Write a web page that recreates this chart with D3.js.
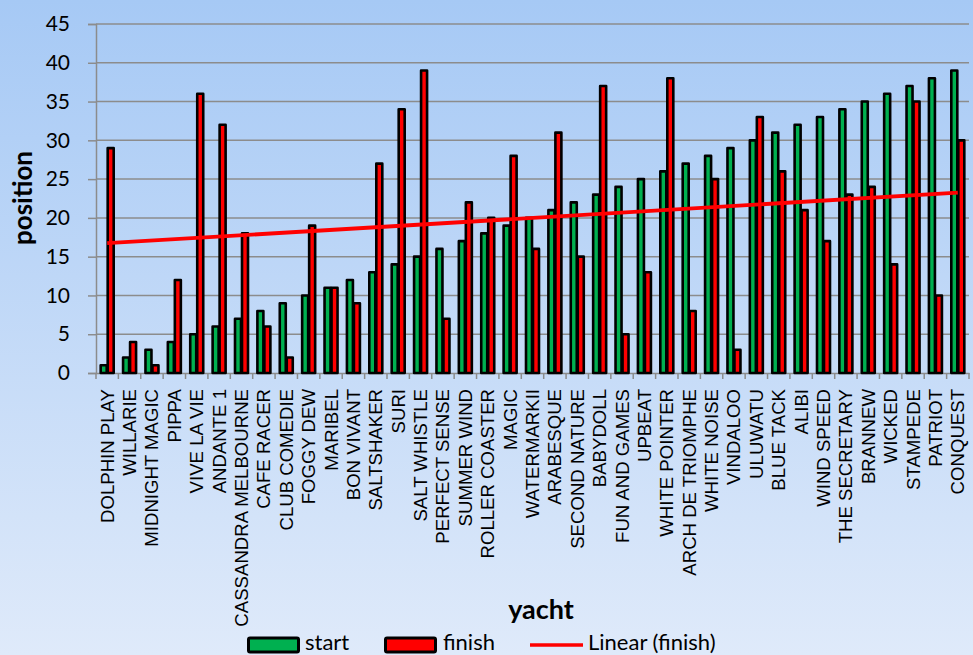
<!DOCTYPE html>
<html>
<head>
<meta charset="utf-8">
<script src="https://cdn.jsdelivr.net/npm/d3@7"></script>
<style>
  html, body { margin: 0; padding: 0; }
  svg { display: block; }
</style>
</head>
<body>
<svg id="chart" width="973" height="655"></svg>
<script>
const yachts = ["DOLPHIN PLAY","WILLARIE","MIDNIGHT MAGIC","PIPPA","VIVE LA VIE","ANDANTE 1","CASSANDRA MELBOURNE","CAFE RACER","CLUB COMEDIE","FOGGY DEW","MARIBEL","BON VIVANT","SALTSHAKER","SURI","SALT WHISTLE","PERFECT SENSE","SUMMER WIND","ROLLER COASTER","MAGIC","WATERMARKII","ARABESQUE","SECOND NATURE","BABYDOLL","FUN AND GAMES","UPBEAT","WHITE POINTER","ARCH DE TRIOMPHE","WHITE NOISE","VINDALOO","ULUWATU","BLUE TACK","ALIBI","WIND SPEED","THE SECRETARY","BRANNEW","WICKED","STAMPEDE","PATRIOT","CONQUEST"];
const start  = [1,2,3,4,5,6,7,8,9,10,11,12,13,14,15,16,17,18,19,20,21,22,23,24,25,26,27,28,29,30,31,32,33,34,35,36,37,38,39];
const finish = [29,4,1,12,36,32,18,6,2,19,11,9,27,34,39,7,22,20,28,16,31,15,37,5,13,38,8,25,3,33,26,21,17,23,24,14,35,10,30];
const yTicks = [0,5,10,15,20,25,30,35,40,45];
const legendLabels = ["start","finish","Linear (finish)"];

const W = 973, H = 655;
const L = 96, R = 969, T = 24, B = 373;
const svg = d3.select("#chart");

// background gradient
const defs = svg.append("defs");
const grad = defs.append("linearGradient").attr("id","bg").attr("x1",0).attr("y1",0).attr("x2",0).attr("y2",1);
grad.append("stop").attr("offset","0%").attr("stop-color","#a6c9f5");
grad.append("stop").attr("offset","100%").attr("stop-color","#dfeafa");
svg.append("rect").attr("width",W).attr("height",H).attr("fill","url(#bg)");

const x = d3.scaleBand().domain(yachts).range([L, R]).padding(0);
const y = d3.scaleLinear().domain([0,45]).range([B, T]);

// gridlines
svg.append("g").selectAll("line").data(yTicks.filter(d=>d>0)).join("line")
  .attr("x1", L).attr("x2", R).attr("y1", d=>y(d)).attr("y2", d=>y(d))
  .attr("stroke","#8c8c8c").attr("stroke-width",1.5);

// y axis
const yAxis = svg.append("g").attr("transform",`translate(${L},0)`)
  .call(d3.axisLeft(y).tickValues(yTicks).tickSize(8).tickPadding(18).tickFormat(d3.format("d")));
yAxis.select(".domain").attr("stroke","#8c8c8c").attr("stroke-width",1.5);
yAxis.selectAll(".tick line").attr("stroke","#8c8c8c").attr("stroke-width",1.5);
yAxis.selectAll("text").attr("font-family","Lato, 'Open Sans', sans-serif").attr("font-size",21).attr("fill","#000");

// x axis
const xAxis = svg.append("g").attr("transform",`translate(0,${B})`)
  .call(d3.axisBottom(x).tickSize(0).tickFormat(""));
xAxis.select(".domain").attr("stroke","#8c8c8c").attr("stroke-width",1.5);
// boundary ticks
const bounds = yachts.map(d => x(d)).concat([R]);
svg.append("g").selectAll("line").data(bounds).join("line")
  .attr("x1", d=>d).attr("x2", d=>d).attr("y1", B).attr("y2", B+6)
  .attr("stroke","#8c8c8c").attr("stroke-width",1.5);

// category labels
svg.append("g").selectAll("text").data(yachts).join("text")
  .attr("transform", d => `translate(${x(d)+x.bandwidth()/2+6.5},${389}) rotate(-90)`)
  .attr("text-anchor","end")
  .attr("font-family","'Liberation Sans', Arial, sans-serif")
  .attr("font-size",18.6)
  .attr("fill","#000")
  .text(d=>d);

// bars
const bw = 6, sw = 2.6, off = 0.5;
const bars = svg.append("g");
bars.selectAll("rect.s").data(yachts).join("rect").attr("class","s")
  .attr("x", (d,i) => x(d)+x.bandwidth()/2 - off - bw)
  .attr("width", bw)
  .attr("y", (d,i) => y(start[i]))
  .attr("height", (d,i) => B - y(start[i]))
  .attr("fill","#00b050").attr("stroke","#000").attr("stroke-width",sw).attr("stroke-linejoin","round");
bars.selectAll("rect.f").data(yachts).join("rect").attr("class","f")
  .attr("x", (d,i) => x(d)+x.bandwidth()/2 + off)
  .attr("width", bw)
  .attr("y", (d,i) => y(finish[i]))
  .attr("height", (d,i) => B - y(finish[i]))
  .attr("fill","#ff0000").attr("stroke","#000").attr("stroke-width",sw).attr("stroke-linejoin","round");

// linear trend of finish (least squares over category index 1..n)
const n = finish.length;
const idx = d3.range(1, n+1);
const mx = d3.mean(idx), my = d3.mean(finish);
const slope = d3.sum(idx, (k,i)=> (k-mx)*(finish[i]-my)) / d3.sum(idx, k => (k-mx)*(k-mx));
const icpt = my - slope*mx;
const trend = [0, n-1].map(i => [x(yachts[i])+x.bandwidth()/2, y(icpt + slope*(i+1))]);
svg.append("path").attr("d", d3.line()(trend))
  .attr("stroke","#ff0000").attr("stroke-width",3.8).attr("fill","none");

// axis titles
svg.append("text").attr("transform",`translate(32,198) rotate(-90)`)
  .attr("text-anchor","middle").attr("font-family","Lato, 'Open Sans', sans-serif")
  .attr("font-weight","bold").attr("font-size",26).attr("fill","#000").text("position");
svg.append("text").attr("x",541).attr("y",619)
  .attr("text-anchor","middle").attr("font-family","Lato, 'Open Sans', sans-serif")
  .attr("font-weight","bold").attr("font-size",27).attr("fill","#000").text("yacht");

// legend
const lg = svg.append("g").attr("font-family","Lato, 'Open Sans', sans-serif").attr("font-size",22).attr("fill","#000");
lg.append("rect").attr("x",248.5).attr("y",638).attr("width",50).attr("height",14)
  .attr("fill","#00b050").attr("stroke","#000").attr("stroke-width",3).attr("rx",1.5);
lg.append("text").attr("x",305).attr("y",650).text(legendLabels[0]);
lg.append("rect").attr("x",385.5).attr("y",638).attr("width",50).attr("height",14)
  .attr("fill","#ff0000").attr("stroke","#000").attr("stroke-width",3).attr("rx",1.5);
lg.append("text").attr("x",443).attr("y",650).text(legendLabels[1]);
lg.append("line").attr("x1",530).attr("x2",583).attr("y1",645).attr("y2",645)
  .attr("stroke","#ff0000").attr("stroke-width",3.5);
lg.append("text").attr("x",588).attr("y",650).text(legendLabels[2]);
</script>
</body>
</html>
